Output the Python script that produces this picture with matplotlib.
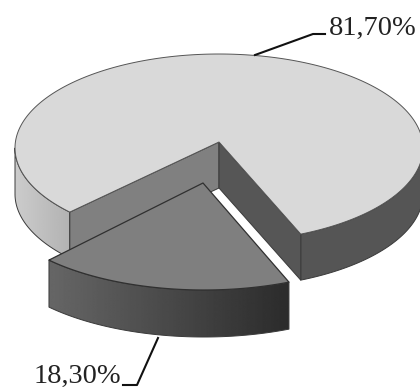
import numpy as np
import matplotlib
matplotlib.use("Agg")
import matplotlib.pyplot as plt
from matplotlib.patches import Polygon

shares = [81.70, 18.30]
labels = ["81,70%", "18,30%"]

fig = plt.figure(figsize=(4.2, 3.88), dpi=100)
ax = fig.add_axes([0, 0, 1, 1])
ax.set_xlim(0, 420)
ax.set_ylim(388, 0)
ax.axis("off")

CX, CY, A, B, DEPTH = 219, 148, 204, 94, 46
SMALL_A = 212
# wedge opening, screen angles (perspective widens the small slice slightly)
start = 223.0
sweep = shares[1] * 3.6 * 1.072
end = start + sweep
EDGE = "#3a3a3a"


def arc(t0, t1, cx, cy, n=160, a=A):
    t = np.radians(np.linspace(t0, t1, n))
    return np.column_stack([cx + a * np.cos(t), cy - B * np.sin(t)])


def poly(pts, fc, z, ec=EDGE, lw=0.7):
    p = Polygon(pts, closed=True, fc=fc, ec=ec, lw=lw, joinstyle="round", zorder=z)
    ax.add_patch(p)
    return p


def grad_wall(top, depth, c0, c1, z):
    bottom = top + [0, depth]
    pts = np.vstack([top, bottom[::-1]])
    clip = poly(pts, "none", z + 0.1)
    x0, x1 = pts[:, 0].min(), pts[:, 0].max()
    y0, y1 = pts[:, 1].min(), pts[:, 1].max()
    g = np.linspace(c0, c1, 256)[None, :]
    im = ax.imshow(g, extent=[x0, x1, y1, y0], cmap="gray", vmin=0, vmax=1,
                   aspect="auto", zorder=z, interpolation="bilinear")
    im.set_clip_path(clip)


# large slice
apex = np.array([CX, CY - 6.0])
p_left = arc(start, start, CX, CY, 1)[0]
p_right = arc(end, end, CX, CY, 1)[0]
down = np.array([0, DEPTH])

grad_wall(arc(180, start, CX, CY), DEPTH, 0.80, 0.70, 1)
poly(np.vstack([arc(end, 360, CX, CY), arc(end, 360, CX, CY)[::-1] + down]), "#555555", 1)
poly([p_left, apex, apex + down, p_left + down], "#808080", 2)
poly([apex, p_right, p_right + down, apex + down], "#565656", 2)
poly(np.vstack([apex, arc(end, start + 360, CX, CY, 400)]), "#d9d9d9", 3, ec="#555555", lw=0.7)

# small slice, pulled out
SX, SY = CX - 15, CY + 48
s_apex = np.array([CX - 16.0, SY - 13.0])
s_arc = arc(start, end, SX, SY, a=SMALL_A)
grad_wall(s_arc, DEPTH + 1, 0.40, 0.17, 4)
poly(np.vstack([s_apex, s_arc]), "#7f7f7f", 5, ec="#303030", lw=0.9)

# leader lines and labels
ax.plot([255, 313, 325], [55, 34, 34], color="#111111", lw=1.5, zorder=6)
ax.plot([158, 137, 123], [338, 385, 385], color="#111111", lw=1.5, zorder=6)
serif = ["Liberation Serif", "DejaVu Serif"]
ax.text(329, 35, labels[0], family=serif, fontsize=20.5, color="#222222", ha="left", va="baseline")
ax.text(34, 383, labels[1], family=serif, fontsize=20.5, color="#222222", ha="left", va="baseline")

ax.set_xlim(0, 420)
ax.set_ylim(388, 0)
fig.savefig("out.png", dpi=100, facecolor="white")
